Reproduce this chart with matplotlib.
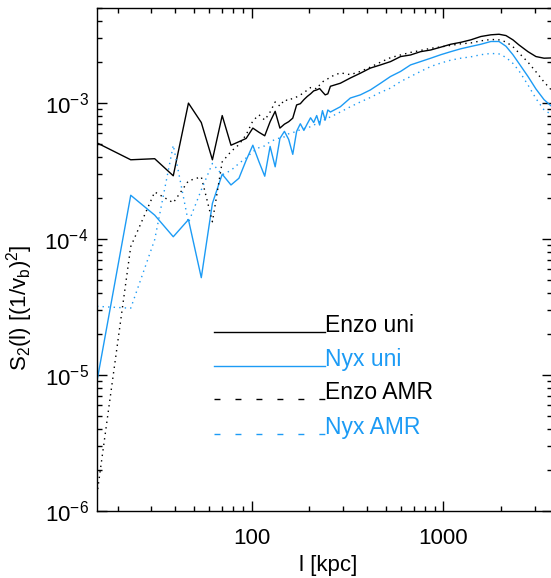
import matplotlib
matplotlib.use("Agg")
import matplotlib.pyplot as plt
from matplotlib.ticker import LogLocator, NullFormatter

plt.rcParams["font.family"] = ["Liberation Sans", "DejaVu Sans"]
plt.rcParams["axes.unicode_minus"] = False
plt.rcParams["mathtext.fontset"] = "custom"
plt.rcParams["mathtext.rm"] = "Liberation Sans"
plt.rcParams["mathtext.it"] = "Liberation Sans"

BLUE = "#1c9bf5"

# separation l in kpc (uniform grid at small l, sparse read-off at large l)
l_kpc = [15.6, 23.4, 31.2, 39.0, 46.8, 54.6, 62.4, 70.2, 78.0, 85.8, 93.6,
         101.4, 109.2, 117.0, 124.8, 132.6, 140.4, 148.2, 156.0, 163.8, 171.6,
         179.4, 187.2, 195.0, 202.8, 210.6, 218.4, 226.2, 234.0, 241.8, 249.6,
         257.4, 290, 327, 369, 416, 470, 530, 598, 674, 760, 859, 969, 1092,
         1232, 1390, 1568, 1769, 1950, 2120, 2305, 2478, 2762, 3040, 3350, 3690]

enzo_uni = [5.1e-4, 3.83e-4, 3.9e-4, 2.92e-4, 1.0e-3, 7.2e-4, 3.83e-4, 8.1e-4,
            4.9e-4, 5.2e-4, 5.5e-4, 6.55e-4, 6.1e-4, 5.75e-4, 7.3e-4, 8.7e-4,
            6.55e-4, 7.0e-4, 7.3e-4, 7.75e-4, 9.7e-4, 9.9e-4, 1.06e-3, 1.12e-3,
            1.17e-3, 1.23e-3, 1.25e-3, 1.28e-3, 1.21e-3, 1.15e-3, 1.17e-3, 1.33e-3,
            1.40e-3, 1.53e-3, 1.66e-3, 1.81e-3, 1.91e-3, 2.02e-3, 2.20e-3, 2.26e-3,
            2.39e-3, 2.46e-3, 2.58e-3, 2.71e-3, 2.80e-3, 2.92e-3, 3.09e-3, 3.18e-3,
            3.21e-3, 3.14e-3, 2.92e-3, 2.68e-3, 2.39e-3, 2.20e-3, 2.14e-3, 2.15e-3]

nyx_uni = [9.0e-6, 2.1e-4, 1.5e-4, 1.04e-4, 1.39e-4, 5.2e-5, 1.83e-4, 3.0e-4,
           2.5e-4, 2.8e-4, 3.8e-4, 4.9e-4, 3.7e-4, 2.9e-4, 4.8e-4, 3.4e-4,
           5.5e-4, 6.2e-4, 5.4e-4, 4.2e-4, 6.2e-4, 7.05e-4, 6.3e-4, 7.05e-4,
           7.8e-4, 7.2e-4, 8.1e-4, 6.9e-4, 8.8e-4, 7.5e-4, 8.9e-4, 8.6e-4,
           9.4e-4, 1.09e-3, 1.15e-3, 1.25e-3, 1.40e-3, 1.57e-3, 1.71e-3, 1.91e-3,
           2.02e-3, 2.14e-3, 2.27e-3, 2.39e-3, 2.51e-3, 2.61e-3, 2.71e-3, 2.84e-3,
           2.84e-3, 2.62e-3, 2.27e-3, 1.96e-3, 1.57e-3, 1.27e-3, 1.06e-3, 9.4e-4]

enzo_amr = [1.32e-6, 8.8e-5, 2.22e-4, 1.85e-4, 2.68e-4, 2.87e-4, 1.34e-4, 3.7e-4,
            4.4e-4, 4.95e-4, 5.85e-4, 7.4e-4, 8.2e-4, 7.5e-4, 8.6e-4, 1.02e-3,
            9.5e-4, 1.06e-3, 1.04e-3, 1.09e-3, 1.11e-3, 1.15e-3, 1.19e-3, 1.25e-3,
            1.30e-3, 1.30e-3, 1.27e-3, 1.36e-3, 1.43e-3, 1.48e-3, 1.51e-3, 1.56e-3,
            1.67e-3, 1.62e-3, 1.71e-3, 1.84e-3, 2.0e-3, 2.16e-3, 2.26e-3, 2.36e-3,
            2.44e-3, 2.53e-3, 2.59e-3, 2.66e-3, 2.73e-3, 2.77e-3, 2.87e-3, 2.94e-3,
            2.92e-3, 2.82e-3, 2.60e-3, 2.34e-3, 2.0e-3, 1.7e-3, 1.43e-3, 1.23e-3]

nyx_amr = [3.2e-5, 3.1e-5, 9.9e-5, 4.9e-4, 1.32e-4, 2.3e-4, 3.6e-4, 2.97e-4,
           3.2e-4, 3.6e-4, 3.95e-4, 4.4e-4, 4.7e-4, 4.85e-4, 5.2e-4, 5.4e-4,
           5.55e-4, 5.65e-4, 5.95e-4, 6.05e-4, 6.25e-4, 6.35e-4, 6.5e-4, 6.6e-4,
           6.7e-4, 6.9e-4, 7.05e-4, 7.3e-4, 7.4e-4, 7.6e-4, 7.8e-4, 7.9e-4,
           8.6e-4, 9.4e-4, 1.02e-3, 1.10e-3, 1.20e-3, 1.29e-3, 1.44e-3, 1.57e-3,
           1.71e-3, 1.86e-3, 1.97e-3, 2.07e-3, 2.14e-3, 2.19e-3, 2.27e-3, 2.32e-3,
           2.30e-3, 2.17e-3, 1.96e-3, 1.73e-3, 1.36e-3, 1.08e-3, 8.9e-4, 8.2e-4]

labels = ["Enzo uni", "Nyx uni", "Enzo AMR", "Nyx AMR"]
colors = ["black", BLUE, "black", BLUE]

fig = plt.figure(figsize=(5.51, 5.78), dpi=100)
ax = fig.add_axes([0.176, 0.116, 0.826, 0.870])

dots = (0, (1, 3))
ax.plot(l_kpc, enzo_uni, color="black", lw=1.0)
ax.plot(l_kpc, nyx_uni, color=BLUE, lw=1.0)
ax.plot(l_kpc, enzo_amr, color="black", lw=1.0, ls=dots)
ax.plot(l_kpc, nyx_amr, color=BLUE, lw=1.0, ls=dots)

ax.set_xscale("log")
ax.set_yscale("log")
ax.set_xlim(15.6, 3690)
ax.set_ylim(1e-6, 5e-3)

ax.set_xticks([100, 1000])
ax.set_xticklabels(["100", "1000"])
ax.xaxis.set_minor_locator(LogLocator(base=10, subs=range(2, 10)))
ax.xaxis.set_minor_formatter(NullFormatter())
ax.yaxis.set_minor_locator(LogLocator(base=10, subs=range(2, 10)))
ax.yaxis.set_minor_formatter(NullFormatter())

ax.tick_params(which="both", direction="in", top=True, right=True,
               labelsize=16, width=1.0)
ax.tick_params(which="major", length=7)
ax.tick_params(which="minor", length=3.6)
ax.tick_params(axis="x", which="major", pad=12)
ax.tick_params(axis="y", which="major", pad=6)
for s in ax.spines.values():
    s.set_linewidth(1.0)

# IDL-style legend: line segment followed by coloured label
leg_y = [0.355, 0.288, 0.222, 0.153]
for i, (lab, col) in enumerate(zip(labels, colors)):
    ls = "-" if i < 2 else (0, (4.3, 10.8))
    ax.plot([0.257, 0.5], [leg_y[i], leg_y[i]], transform=ax.transAxes,
            color=col, lw=1.0, ls=ls)
    ax.text(0.502, leg_y[i], lab, transform=ax.transAxes, color=col,
            fontsize=16.5, ha="left", va="baseline")

fig.text(20 / 551, 1 - 308 / 578, r"S$_2$(l) [(1/v$_b$)$^2$]", rotation=90,
         fontsize=16, ha="center", va="center")
fig.text(328 / 551, 1 - 566 / 578, "l [kpc]", fontsize=16,
         ha="center", va="center")

fig.savefig("out.png", dpi=100)
